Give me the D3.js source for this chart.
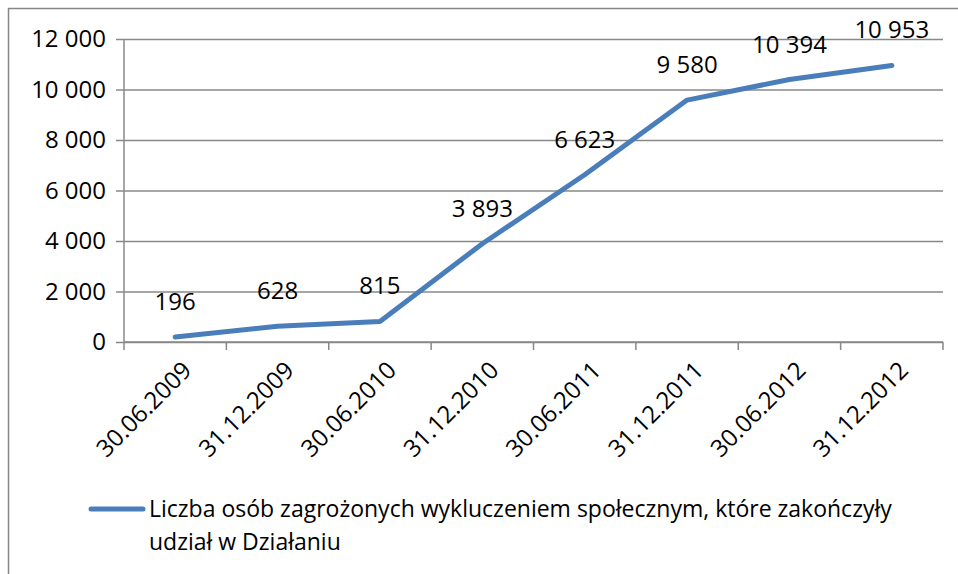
<!DOCTYPE html>
<html>
<head>
<meta charset="utf-8">
<script src="https://cdn.jsdelivr.net/npm/d3@7"></script>
<style>
  body { margin: 0; background: #fff; }
  text { font-family: "Open Sans", Lato, sans-serif; fill: #000; }
</style>
</head>
<body>
<div id="chart"></div>
<script>
// Chart data
var dates = ['30.06.2009', '31.12.2009', '30.06.2010', '31.12.2010',
             '30.06.2011', '31.12.2011', '30.06.2012', '31.12.2012'];
var values = [196, 628, 815, 3893, 6623, 9580, 10394, 10953];
var yTicks = [0, 2000, 4000, 6000, 8000, 10000, 12000];
var seriesName = ['Liczba osób zagrożonych wykluczeniem społecznym, które zakończyły',
                  'udział w Działaniu'];

var svgWidth = 958;
var svgHeight = 574;

var margin = { top: 39, right: 15, bottom: 232, left: 124 };
var chartWidth = svgWidth - margin.left - margin.right;
var chartHeight = svgHeight - margin.top - margin.bottom;

var svg = d3.select('#chart')
    .append('svg')
    .attr('width', svgWidth)
    .attr('height', svgHeight);

// Outer chart border
svg.append('rect')
    .attr('x', 8.5)
    .attr('y', 8.5)
    .attr('width', 960)
    .attr('height', 580)
    .attr('fill', 'none')
    .attr('stroke', '#868686')
    .attr('stroke-width', 1.5);

var chartGroup = svg.append('g')
    .attr('transform', `translate(${margin.left}, ${margin.top})`);

// Scales
var xScale = d3.scaleBand()
    .domain(dates)
    .range([0, chartWidth]);

var yScale = d3.scaleLinear()
    .domain([0, 12000])
    .range([chartHeight, 0]);

var fmt = function (d) { return d3.format(',')(d).replace(/,/g, ' '); };

// Y axis with gridlines
var yAxis = d3.axisLeft(yScale)
    .tickValues(yTicks)
    .tickSize(-chartWidth)
    .tickPadding(18)
    .tickFormat(fmt);

var yAxisG = chartGroup.append('g').call(yAxis);
yAxisG.select('.domain').remove();
yAxisG.selectAll('line')
    .attr('x1', -8)
    .attr('stroke', '#888')
    .attr('stroke-width', 1.5);
yAxisG.selectAll('text')
    .style('font-size', '24px')
    .style('font-family', '"Open Sans", sans-serif');

// Y axis vertical line
chartGroup.append('line')
    .attr('x1', 0).attr('x2', 0)
    .attr('y1', 0).attr('y2', chartHeight)
    .attr('stroke', '#888')
    .attr('stroke-width', 1.5);

// X axis
var xAxisG = chartGroup.append('g')
    .attr('transform', `translate(0, ${chartHeight})`);

xAxisG.append('line')
    .attr('x1', 0).attr('x2', chartWidth)
    .attr('stroke', '#888')
    .attr('stroke-width', 1.5);

var tickPos = dates.map(function (d) { return xScale(d); }).concat([chartWidth]);
xAxisG.selectAll('.xtick')
    .data(tickPos)
    .enter()
    .append('line')
    .attr('x1', d => d).attr('x2', d => d)
    .attr('y1', 0).attr('y2', 8)
    .attr('stroke', '#888')
    .attr('stroke-width', 1.5);

xAxisG.selectAll('.xlabel')
    .data(dates)
    .enter()
    .append('text')
    .attr('transform', d => `translate(${xScale(d) + xScale.bandwidth() / 2 + 6}, 18) rotate(-45)`)
    .attr('text-anchor', 'end')
    .attr('dy', '0.7em')
    .style('font-size', '24px')
    .text(d => d);

// Line
var line = d3.line()
    .x((d, i) => xScale(dates[i]) + xScale.bandwidth() / 2)
    .y(d => yScale(d));

chartGroup.append('path')
    .datum(values)
    .attr('d', line)
    .attr('fill', 'none')
    .attr('stroke', '#4a7ebb')
    .attr('stroke-width', 5)
    .attr('stroke-linecap', 'round')
    .attr('stroke-linejoin', 'round');

// Data labels
chartGroup.selectAll('.dlabel')
    .data(values)
    .enter()
    .append('text')
    .attr('x', (d, i) => xScale(dates[i]) + xScale.bandwidth() / 2)
    .attr('y', d => yScale(d) - 27)
    .attr('text-anchor', 'middle')
    .style('font-size', '24px')
    .text(d => fmt(d));

// Legend
var legend = svg.append('g');
legend.append('line')
    .attr('x1', 91).attr('x2', 143)
    .attr('y1', 509).attr('y2', 509)
    .attr('stroke', '#4a7ebb')
    .attr('stroke-width', 5)
    .attr('stroke-linecap', 'round');

legend.selectAll('.ltext')
    .data(seriesName)
    .enter()
    .append('text')
    .attr('x', 149)
    .attr('y', (d, i) => 517 + i * 33)
    .style('font-size', '23px')
    .text(d => d);
</script>
</body>
</html>
